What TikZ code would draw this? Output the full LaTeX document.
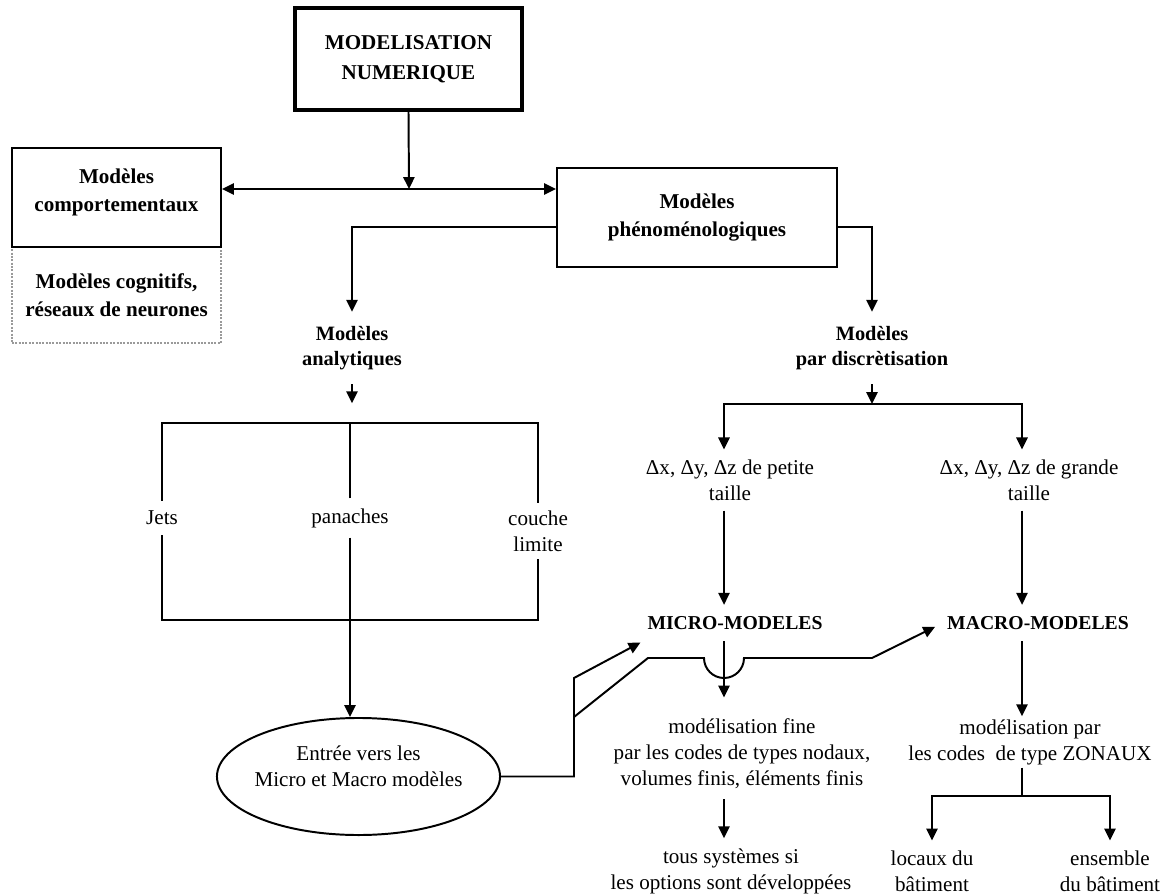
\documentclass[tikz,border=0pt]{standalone}
\usepackage{fontspec}
\setmainfont{Liberation Serif}
\usepackage{tikz}
\usetikzlibrary{
  shapes.geometric,
  positioning,
  backgrounds,
  arrows.meta,
  calc
}
\usepackage{xcolor}
\definecolor{mybgcolor}{HTML}{FFFFFF}
\definecolor{mydotcolor}{HTML}{9A9A9A}

\begin{document}
\begin{tikzpicture}[
  x=0.025cm, y=-0.025cm,
  my_box/.style={
    draw,
    line width=1.4pt,
    minimum width=5.225cm,
    minimum height=2.475cm,
    inner sep=0pt,
    align=center,
    font=\bfseries\fontsize{15}{19.5}\selectfont,
  },
  my_bold/.style={
    align=center,
    inner xsep=3pt,
    inner ysep=10pt,
    font=\bfseries\fontsize{14.5}{18}\selectfont,
  },
  my_text/.style={
    align=center,
    inner xsep=3pt,
    inner ysep=7pt,
    font=\fontsize{15}{18.5}\selectfont,
  },
  my_arrow/.style={
    line width=1.4pt,
    -{Triangle[length=8.5pt, width=8pt]},
  },
  my_line/.style={
    line width=1.4pt,
  },
  my_thin/.style={
    line width=1pt,
  }
  ]

  \path[use as bounding box] (0,0) rectangle (1167,894);

  \begin{scope}[on background layer]
    \fill[mybgcolor] (current bounding box.south west) rectangle (current bounding box.north east);
  \end{scope}

  \node[my_box, line width=3pt, minimum width=5.675cm, minimum height=2.55cm, font=\bfseries\fontsize{15}{21.5}\selectfont] (numerique) at (408.5,59) {MODELISATION\\NUMERIQUE};

  \node[my_box, draw=mydotcolor, densely dotted, line width=0.8pt, minimum height=2.4cm] (cognitif) at (116.5,295) {Modèles cognitifs,\\réseaux de neurones};
  \node[my_box, label={[my_box, draw=none, minimum size=0pt, yshift=3.5pt]center:{Modèles\\comportementaux}}] (comport) at (116.5,197.5) {};
  \node[my_box, minimum width=7cm] (phenomeno) at (697,217.5) {Modèles\\phénoménologiques};

  \node[my_bold] (analyt) at (352,348) {Modèles\\analytiques};
  \node[my_bold] (discret) at (872,348) {Modèles\\par discrètisation};

  \node[my_text] (petite) at (730,480) {Δx, Δy, Δz de petite\\taille};
  \node[my_text] (grande) at (1029,480) {Δx, Δy, Δz de grande\\taille};

  \node[my_bold, inner ysep=8pt, font=\bfseries\fontsize{14}{17}\selectfont] (micro) at (735,623) {MICRO-MODELES};
  \node[my_bold, inner ysep=8pt, font=\bfseries\fontsize{14}{17}\selectfont] (macro) at (1038,623) {MACRO-MODELES};

  \node[my_text] (fine) at (742,754) {modélisation fine\\par les codes de types nodaux,\\volumes finis, éléments finis};
  \node[my_text] (tous) at (731,871) {tous systèmes si\\les options sont développées};
  \node[my_text, inner ysep=2pt] (zonaux) at (1030,742) {modélisation par\\les codes~ de type ZONAUX};
  \node[my_text] (locaux) at (932,871) {locaux du\\bâtiment};
  \node[my_text] (ensemble) at (1110,871) {ensemble\\du bâtiment};

  \node[my_text] (jets) at (162,518) {Jets};
  \node[my_text] (panaches) at (350,518) {panaches};
  \node[my_text, inner ysep=5pt] (couche) at (538,531) {couche\\limite};

  \node[draw, ellipse, line width=1.4pt, minimum width=7.075cm, minimum height=2.925cm, inner sep=0pt,
    label={[my_text, yshift=7pt]center:{Entrée vers les\\Micro et Macro modèles}}] (entree) at (358.5,776.5) {};

  \coordinate (split) at (409,189);
  \coordinate (colL) at (724,404);
  \coordinate (colR) at (1022,404);
  \coordinate (brTL) at (162,423);
  \coordinate (brBR) at (538,620);
  \coordinate (forkZ) at (1022,796);
  \coordinate (kneeB) at (574,678);
  \coordinate (kneeC) at (574,717);
  \coordinate (kneeD) at (648,658);
  \coordinate (bumpL) at (704,658);
  \coordinate (kneeE) at (872,658);

  \draw[my_arrow] (numerique.south) -- (split);
  \draw[my_arrow] (split) -- (split -| comport.east);
  \draw[my_arrow] (split) -- (split -| phenomeno.west);

  \draw[my_arrow] ($(phenomeno.west)+(0,9.5)$) -| (analyt.north);
  \draw[my_arrow] ($(phenomeno.east)+(0,9.5)$) -| (discret.north);

  \draw[my_arrow, shorten >=14pt] (analyt.south) -- (analyt.south |- brTL);
  \draw[my_thin] (jets.north) -- (brTL) -| (couche.north);
  \draw[my_thin] (jets.south) |- (brBR) -- (couche.south);
  \draw[my_thin] (panaches.north) -- (panaches.north |- brTL);
  \draw[my_arrow] (panaches.south) -- (panaches.south |- entree.north);

  \draw[my_arrow] (discret.south) -- (discret.south |- colL);
  \draw[my_arrow] (discret.south |- colL) -| (petite.north -| colL);
  \draw[my_arrow] (discret.south |- colL) -| (grande.north -| colR);

  \draw[my_arrow] (petite.south -| colL) -- (micro.north -| colL);
  \draw[my_arrow] (grande.south -| colR) -- (macro.north -| colR);
  \draw[my_arrow, shorten >=8pt] (micro.south -| colL) -- (fine.north -| colL);
  \draw[my_arrow] (fine.south -| colL) -- (tous.north -| colL);
  \draw[my_arrow] (macro.south -| colR) -- (zonaux.north -| colR);

  \draw[my_line] (zonaux.south -| colR) -- (forkZ);
  \draw[my_arrow] (forkZ) -| (locaux.north);
  \draw[my_arrow] (forkZ) -| (ensemble.north);

  \draw[my_arrow, shorten >=2pt] (entree.east) -| (kneeB) -- (micro.south west);
  \draw[my_arrow, shorten >=6pt] (kneeC) -- (kneeD) -- (bumpL) arc[start angle=180, end angle=0, radius=20] -- (kneeE) -- (macro.west);

\end{tikzpicture}
\end{document}
